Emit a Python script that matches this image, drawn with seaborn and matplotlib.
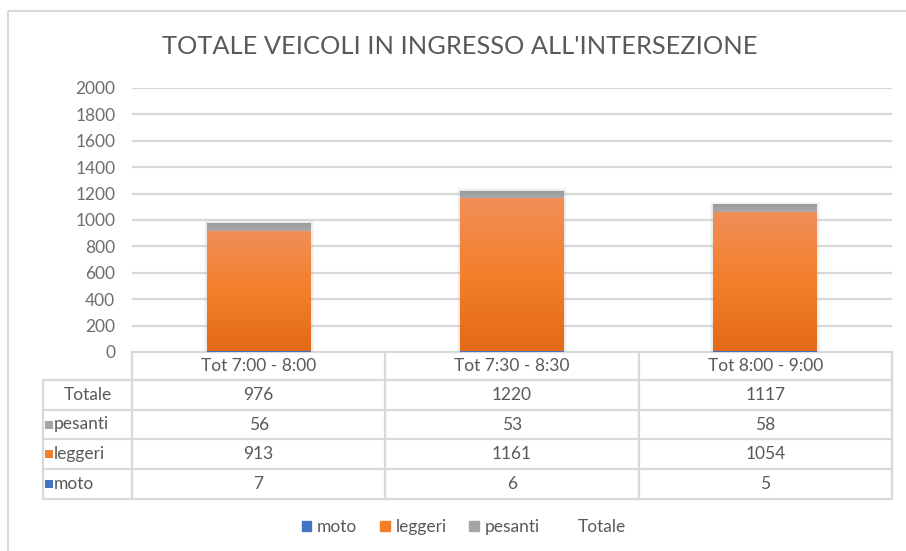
import numpy as np
import matplotlib
matplotlib.use("Agg")
import matplotlib.pyplot as plt
import seaborn as sns
from matplotlib.patches import Rectangle, Patch
from matplotlib.colors import LinearSegmentedColormap
from matplotlib import font_manager

# ---- data ----
periods = ["Tot 7:00 - 8:00", "Tot 7:30 - 8:30", "Tot 8:00 - 9:00"]
moto = [7, 6, 5]
leggeri = [913, 1161, 1054]
pesanti = [56, 53, 58]
totale = [976, 1220, 1117]
y_ticks = list(range(0, 2001, 200))
title = "TOTALE VEICOLI IN INGRESSO ALL'INTERSEZIONE"

# ---- style ----
sns.set_theme(style="white")
installed = {f.name for f in font_manager.fontManager.ttflist}
body_font = "Lato" if "Lato" in installed else "DejaVu Sans"
plt.rcParams["font.family"] = [body_font, "DejaVu Sans"]

TXT = "#595959"
GRID = "#D9D9D9"
C_MOTO = "#4472C4"
C_LEGG = "#F47E2A"
C_PES = "#A5A5A5"

W, H = 906, 551
fig = plt.figure(figsize=(W / 100, H / 100), dpi=100)


def fx(px):
    return px / W


def fy(py):
    return 1 - py / H


# overlay in pixel coordinates for frame and data table
ov = fig.add_axes([0, 0, 1, 1], zorder=0)
ov.set_xlim(0, W)
ov.set_ylim(H, 0)
ov.axis("off")

# chart frame
ov.add_patch(Rectangle((8, 11), W + 20, H, fill=False, ec=GRID, lw=1.5))

# plot area
L, R, T, B = 132, 892, 88, 352
ax = fig.add_axes([fx(L), fy(B), fx(R) - fx(L), fy(T) - fy(B)], zorder=2)
ax.patch.set_alpha(0)

stack_top = [m + l + p for m, l, p in zip(moto, leggeri, pesanti)]
stack_mid = [m + l for m, l in zip(moto, leggeri)]
bw = 0.41

bar_kw = dict(width=bw, saturation=1, ax=ax, zorder=3, linewidth=0, edgecolor="none")
sns.barplot(x=periods, y=stack_top, color=C_PES, **bar_kw)
sns.barplot(x=periods, y=stack_mid, color=C_LEGG, **bar_kw)
sns.barplot(x=periods, y=moto, color=C_MOTO, **bar_kw)

ax.set_xlim(-0.5, 2.5)
ax.set_ylim(0, 2000)
ax.set_yticks(y_ticks)
ax.set_yticklabels([str(v) for v in y_ticks], color="#6E6E6E", fontsize=12.5)
ax.tick_params(axis="y", length=0, pad=12)
ax.set_xticks([])
ax.set_xlabel("")
ax.set_ylabel("")
for s in ax.spines.values():
    s.set_visible(False)
for v in y_ticks[1:]:
    ax.axhline(v, color=GRID, lw=1.6, zorder=1)

# gradient fills and soft shadow on the stacked segments
legg_cmap = LinearSegmentedColormap.from_list("legg", ["#E36A17", "#F47F2B", "#F08F58"])
pes_cmap = LinearSegmentedColormap.from_list("pes", ["#ABABAB", "#9A9A9A"])
grad = np.linspace(0, 1, 256).reshape(-1, 1)
xpp = 3.0 / (R - L)
ypp = 2000.0 / (B - T)
for i in range(len(periods)):
    x0 = i - bw / 2
    x1 = i + bw / 2
    for k in range(1, 4):
        ax.add_patch(Rectangle((x0 - k * xpp, 0), bw + 2 * k * xpp, stack_top[i] + k * ypp,
                               color="#808080", alpha=0.05, lw=0, zorder=2))
    ax.imshow(grad, cmap=legg_cmap, aspect="auto", origin="lower",
              extent=[x0, x1, moto[i], stack_mid[i]], zorder=4)
    ax.imshow(grad, cmap=pes_cmap, aspect="auto", origin="lower",
              extent=[x0, x1, stack_mid[i], stack_top[i]], zorder=4)
ax.set_xlim(-0.5, 2.5)
ax.set_ylim(0, 2000)

# title
fig.text(fx(460), fy(46), title, ha="center", va="center", color=TXT, fontsize=18.3)

# ---- data table ----
col_w = (R - L) / len(periods)
row_edges = [352, 380, 410, 439, 469, 499]
tbl_left = 43
lw_t = 1.6
ov.plot([L, R], [row_edges[0]] * 2, color=GRID, lw=lw_t)
for j in range(len(periods) + 1):
    ov.plot([L + j * col_w] * 2, [row_edges[0], row_edges[-1]], color=GRID, lw=lw_t)
for r in row_edges[1:]:
    ov.plot([tbl_left, R], [r, r], color=GRID, lw=lw_t)
ov.plot([tbl_left] * 2, [row_edges[1], row_edges[-1]], color=GRID, lw=lw_t)

fs_t = 12.5
for j, p in enumerate(periods):
    cx = L + (j + 0.5) * col_w
    ov.text(cx, (row_edges[0] + row_edges[1]) / 2, p, ha="center", va="center",
            color=TXT, fontsize=fs_t)

rows = [("Totale", totale, None), ("pesanti", pesanti, C_PES),
        ("leggeri", leggeri, C_LEGG), ("moto", moto, C_MOTO)]
for r, (name, vals, col) in enumerate(rows):
    cy = (row_edges[r + 1] + row_edges[r + 2]) / 2
    if col is None:
        ov.text((tbl_left + L) / 2, cy, name, ha="center", va="center", color=TXT, fontsize=fs_t)
    else:
        ov.add_patch(Rectangle((45, cy - 4), 8, 8, color=col, lw=0))
        ov.text(54, cy, name, ha="left", va="center", color=TXT, fontsize=fs_t)
    for j, v in enumerate(vals):
        ov.text(L + (j + 0.5) * col_w, cy, str(v), ha="center", va="center",
                color=TXT, fontsize=fs_t)

# legend
handles = [Patch(color=C_MOTO), Patch(color=C_LEGG), Patch(color=C_PES),
           Patch(color="none")]
fig.legend(handles, ["moto", "leggeri", "pesanti", "Totale"], ncol=4, frameon=False,
           loc="center", bbox_to_anchor=(fx(464), fy(527)), fontsize=12.5,
           labelcolor=TXT, handlelength=0.55, handleheight=0.55, handletextpad=0.35,
           columnspacing=1.3)

fig.savefig("out.png", dpi=100)
